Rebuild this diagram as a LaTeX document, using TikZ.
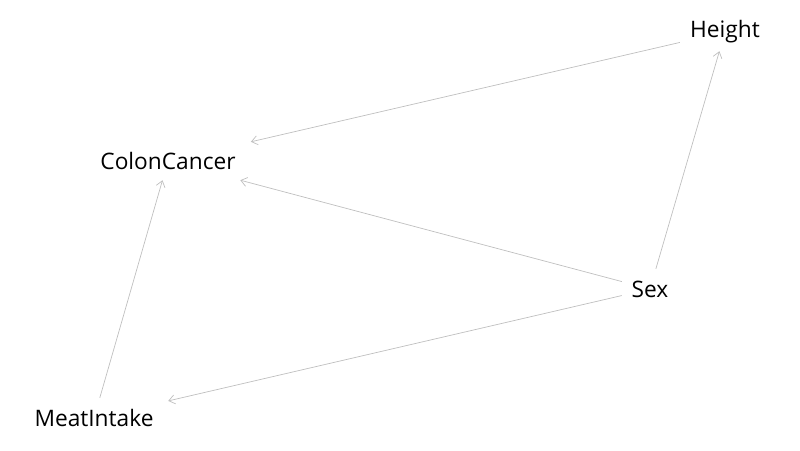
\documentclass[tikz,border=0pt]{standalone}
\usepackage{fontspec}
\setmainfont{Open Sans}
\usetikzlibrary{arrows.meta}
\begin{document}
\begin{tikzpicture}[x=1pt,y=-1pt,
  var/.style={rectangle,inner sep=0pt,font=\fontsize{22.7}{26}\selectfont,text=black},
  edge/.style={draw=black!25,line width=0.7pt,-{Straight Barb[length=6pt,width=9pt,line width=0.7pt]}}]
\useasboundingbox (0,0) rectangle (800,450);
\node[var,minimum width=90pt,minimum height=38pt] (H) at (725,32) {Height};
\node[var,minimum width=170pt,minimum height=38pt] (C) at (168,161) {ColonCancer};
\node[var,minimum width=56pt,minimum height=40pt] (S) at (650,289) {Sex};
\node[var,minimum width=148pt,minimum height=40pt] (M) at (94,418) {MeatIntake};
\draw[edge] (H) -- (C);
\draw[edge] (S) -- (H);
\draw[edge] (S) -- (C);
\draw[edge] (S) -- (M);
\draw[edge] (M) -- (C);
\end{tikzpicture}
\end{document}
